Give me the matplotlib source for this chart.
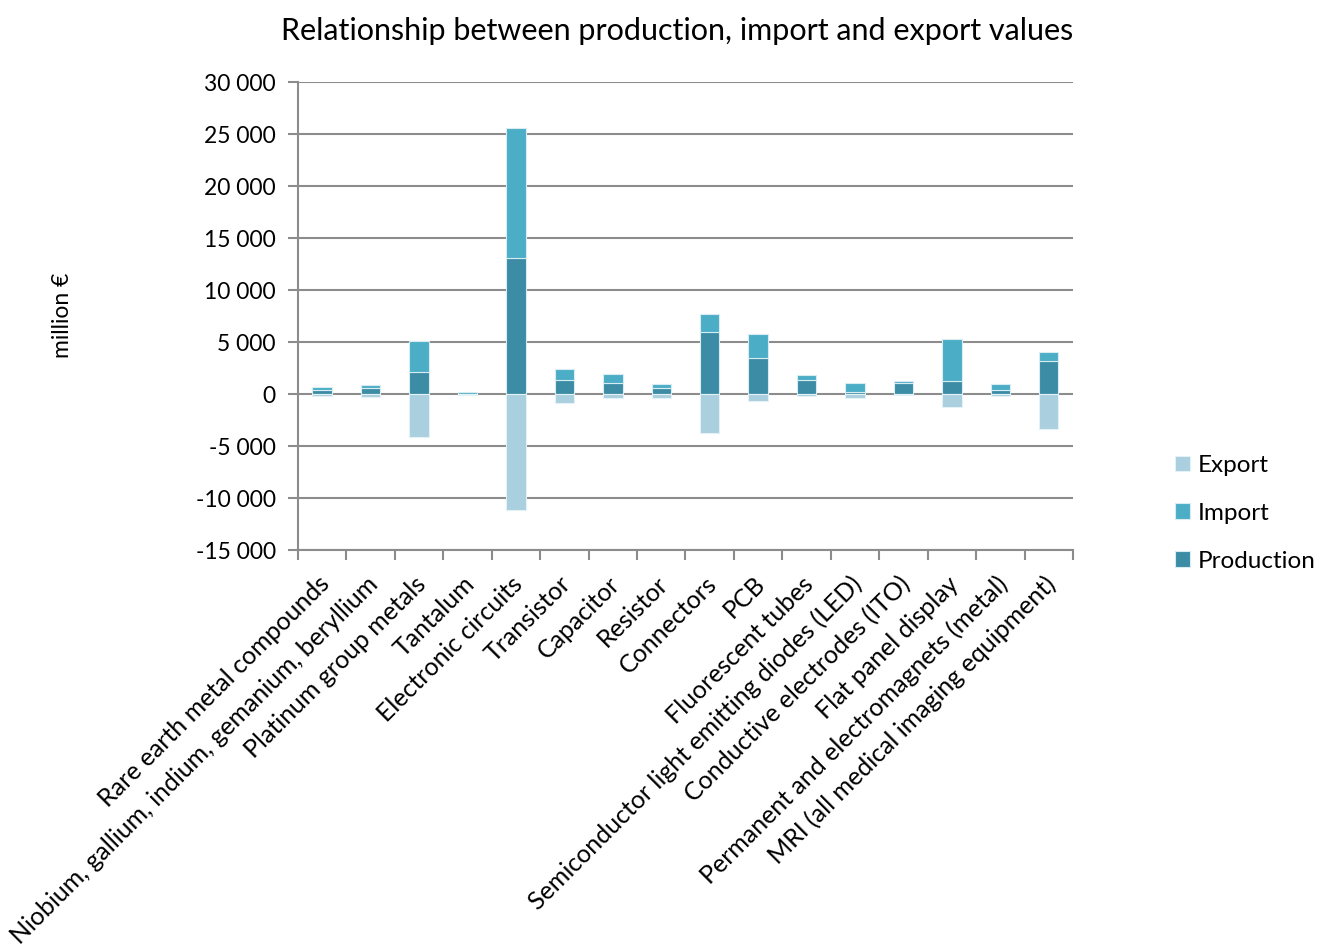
import numpy as np
import matplotlib.pyplot as plt
import matplotlib.transforms as mtransforms
from matplotlib.ticker import FuncFormatter, FixedLocator

categories = ['Rare earth metal compounds',
              'Niobium, gallium, indium, gemanium, beryllium',
              'Platinum group metals', 'Tantalum', 'Electronic circuits',
              'Transistor', 'Capacitor', 'Resistor', 'Connectors', 'PCB',
              'Fluorescent tubes', 'Semiconductor light emitting diodes (LED)',
              'Conductive electrodes (ITO)', 'Flat panel display',
              'Permanent and electromagnets (metal)',
              'MRI (all medical imaging equipment)']
production = [350, 550, 2090, 30, 13080, 1380, 1090, 540, 5990, 3430, 1350, 190, 1090, 1250, 380, 3200]
imports = [350, 320, 3040, 170, 12500, 990, 800, 450, 1730, 2370, 440, 870, 130, 4070, 550, 840]
exports = [-150, -260, -4130, -50, -11150, -840, -350, -420, -3720, -640, -220, -420, -130, -1220, -160, -3400]

c_exp = '#AACFDE'
c_imp = '#4BADC6'
c_prod = '#3B8CA4'
grid_c = '#8c8c8c'

plt.rcParams['font.family'] = ['Lato', 'DejaVu Sans']

fig = plt.figure(figsize=(13.26, 9.47), dpi=100)
ax = fig.add_axes([0.2247, 0.4192, 0.5845, 0.4942])

x = np.arange(len(categories))
w = 0.4
ax.bar(x, production, w, color=c_prod, edgecolor='#d8ecf2', linewidth=0.8, label='Production', zorder=3)
ax.bar(x, imports, w, bottom=production, color=c_imp, edgecolor='#d8ecf2', linewidth=0.8, label='Import', zorder=3)
ax.bar(x, exports, w, color=c_exp, edgecolor='#e4f1f6', linewidth=0.8, label='Export', zorder=3)

ax.set_xlim(-0.5, len(categories) - 0.5)
ax.set_ylim(-15000, 30000)
ax.set_yticks(np.arange(-15000, 30001, 5000))
ax.yaxis.set_major_formatter(FuncFormatter(lambda v, p: f'{int(v):,}'.replace(',', ' ')))
ax.grid(axis='y', color=grid_c, linewidth=1.5, zorder=0)
ax.set_axisbelow(True)

for s in ['top', 'right']:
    ax.spines[s].set_visible(False)
for s in ['left', 'bottom']:
    ax.spines[s].set_color(grid_c)
    ax.spines[s].set_linewidth(1.5)

ax.tick_params(axis='y', length=7, width=1.5, color=grid_c, labelsize=16.5, pad=9)
ax.xaxis.set_major_locator(FixedLocator(np.arange(-0.5, len(categories), 1)))
ax.tick_params(axis='x', which='major', length=7, width=1.5, color=grid_c, labelbottom=False)
ax.set_xticks(x, minor=True)
ax.tick_params(axis='x', which='minor', length=0, labelsize=18, pad=16)
ax.set_xticklabels(categories, minor=True, rotation=45, ha='right', rotation_mode='anchor')
shift = mtransforms.ScaledTranslation(-0.05, 0, fig.dpi_scale_trans)
for lbl in ax.get_xticklabels(minor=True):
    lbl.set_transform(lbl.get_transform() + shift)

fig.text(0.511, 0.967, 'Relationship between production, import and export values',
         ha='center', va='center', fontsize=22)
fig.text(0.047, 0.667, 'million €', rotation=90, ha='center', va='center', fontsize=16.5)

h, l = ax.get_legend_handles_labels()
order = [2, 1, 0]
fig.legend([h[i] for i in order], [l[i] for i in order], loc='center left',
           bbox_to_anchor=(0.87, 0.458), frameon=False, fontsize=17.5,
           handlelength=0.6, handleheight=0.6, handletextpad=0.3, labelspacing=1.1)

fig.savefig('out.png', dpi=100)
